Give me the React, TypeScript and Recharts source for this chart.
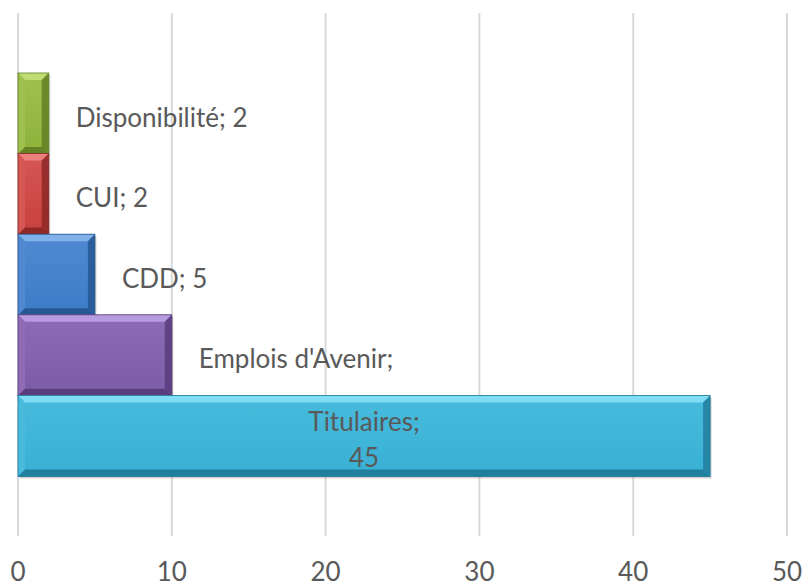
import React from "react";
import { BarChart, Bar, XAxis, YAxis, CartesianGrid, Cell, LabelList } from "recharts";

const categories = ["Disponibilité", "CUI", "CDD", "Emplois d'Avenir", "Titulaires"];
const values = [2, 2, 5, 10, 45];
const labelLines = [["Disponibilité; 2"], ["CUI; 2"], ["CDD; 5"], ["Emplois d'Avenir;"], ["Titulaires;", "45"]];
const labelInside = [false, false, false, false, true];
const xTicks = [0, 10, 20, 30, 40, 50];

const palette = [
  { face: "#8db33a", top: "#c2dc74", side: "#9fc04e", dark: "#5f7d22" },
  { face: "#c8403d", top: "#ec807c", side: "#d45754", dark: "#8a2624" },
  { face: "#3c7cc8", top: "#80b2ea", side: "#5089d0", dark: "#24548e" },
  { face: "#7d5ba6", top: "#b79be0", side: "#8d6bb6", dark: "#553a78" },
  { face: "#38b0d4", top: "#80dcf4", side: "#48bbdc", dark: "#1f7a98" },
];

const data = categories.map((name, i) => ({ name, value: values[i] }));

const FONT = "Lato, 'Open Sans', sans-serif";
const TEXT = "#595959";
const FS = 26;

const BevelBar = (props: any) => {
  const { x, y, width, height, index } = props;
  if (width <= 0 || height <= 0) return null;
  const c = palette[index];
  const b = Math.min(7, width / 2, height / 2);
  const gid = `g${index}`;
  return (
    <g>
      <defs>
        <linearGradient id={gid} x1="0" y1="0" x2="0" y2="1">
          <stop offset="0%" stopColor={c.side} />
          <stop offset="100%" stopColor={c.face} />
        </linearGradient>
      </defs>
      <rect x={x + 1.5} y={y + 2} width={width} height={height} fill="rgba(0,0,0,0.18)" />
      <rect x={x} y={y} width={width} height={height} fill={`url(#${gid})`} />
      <polygon points={`${x},${y} ${x + width},${y} ${x + width - b},${y + b} ${x + b},${y + b}`} fill={c.top} />
      <polygon points={`${x},${y} ${x + b},${y + b} ${x + b},${y + height - b} ${x},${y + height}`} fill={c.side} />
      <polygon points={`${x + width},${y} ${x + width},${y + height} ${x + width - b},${y + height - b} ${x + width - b},${y + b}`} fill={c.dark} opacity={0.8} />
      <polygon points={`${x},${y + height} ${x + b},${y + height - b} ${x + width - b},${y + height - b} ${x + width},${y + height}`} fill={c.dark} opacity={0.9} />
      <rect x={x} y={y} width={width} height={height} fill="none" stroke={c.dark} strokeWidth={0.8} />
    </g>
  );
};

const renderLabel = (props: any) => {
  const { x, y, width, height, index } = props;
  const lines = labelLines[index];
  const cy = y + height / 2 + 3;
  if (labelInside[index]) {
    const lh = 36;
    const start = cy - ((lines.length - 1) * lh) / 2;
    return (
      <text x={x + width / 2} textAnchor="middle" fill={TEXT} fontSize={FS} fontFamily={FONT}>
        {lines.map((l, i) => (
          <tspan key={i} x={x + width / 2} y={start + i * lh} dominantBaseline="central">{l}</tspan>
        ))}
      </text>
    );
  }
  return (
    <text x={x + width + 27} y={cy} textAnchor="start" dominantBaseline="central" fill={TEXT} fontSize={FS} fontFamily={FONT}>
      {lines[0]}
    </text>
  );
};

export default function App() {
  return (
    <div style={{ position: "absolute", left: 0, top: 0, background: "#fff" }}>
      <BarChart
        width={805}
        height={587}
        data={data}
        layout="vertical"
        margin={{ top: 13, right: 18, bottom: 11, left: 18 }}
        barCategoryGap={0}
      >
        <CartesianGrid horizontal={false} vertical={true} stroke="#d9d9d9" strokeWidth={2} />
        <XAxis
          type="number"
          domain={[0, 50]}
          ticks={xTicks}
          axisLine={false}
          tickLine={false}
          tickMargin={21}
          height={40}
          tick={{ fill: TEXT, fontSize: FS, fontFamily: FONT }}
          interval={0}
        />
        <YAxis type="category" dataKey="name" hide padding={{ top: 60, bottom: 60 }} />
        <Bar dataKey="value" isAnimationActive={false} shape={<BevelBar />}>
          {data.map((d, i) => (
            <Cell key={d.name} fill={palette[i].face} />
          ))}
          <LabelList dataKey="value" content={renderLabel} />
        </Bar>
      </BarChart>
    </div>
  );
}
